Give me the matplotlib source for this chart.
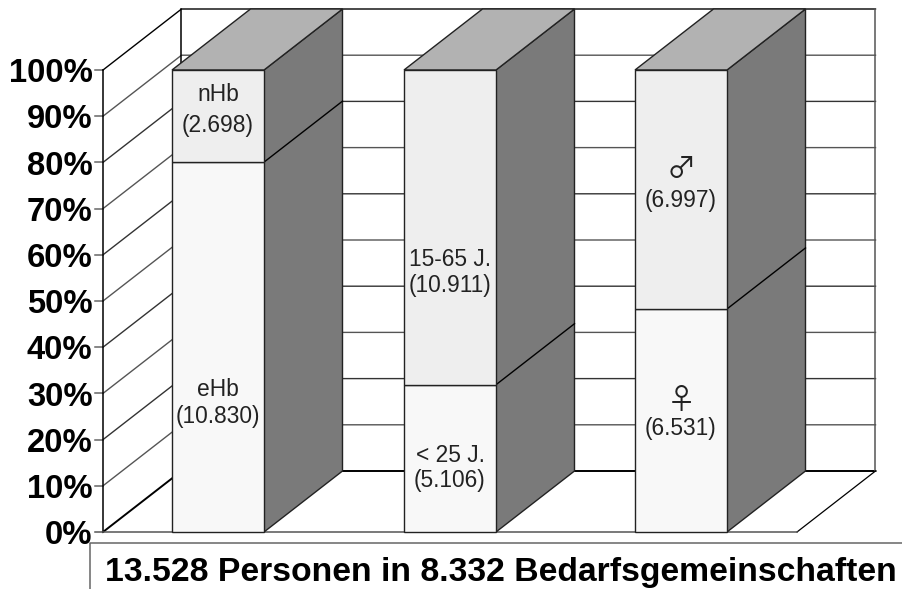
import matplotlib
matplotlib.use("Agg")
import matplotlib.pyplot as plt
from matplotlib.patches import Polygon

plt.rcParams['font.family'] = ['Liberation Sans', 'DejaVu Sans']

# Data
lower_labels = ['eHb', '< 25 J.', '\u2640']
upper_labels = ['nHb', '15-65 J.', '\u2642']
lower_values = [10830, 5106, 6531]
upper_values = [2698, 10911, 6997]
lower_text = ['(10.830)', '(5.106)', '(6.531)']
upper_text = ['(2.698)', '(10.911)', '(6.997)']
tick_values = list(range(0, 101, 10))
title = '13.528 Personen in 8.332 Bedarfsgemeinschaften'

# Layout (x in pixels, y in percent)
W, H = 903, 589
Y0, Y100 = 532.0, 70.0
PP = (Y0 - Y100) / 100
DX, DY = 78.5, 61.0 / PP
XL, XR = 103.0, 797.0
BAR_L = [172.0, 404.0, 635.0]
BAR_W = 92.0
# label heights, as pixel rows from the top: (name, number)
LOWER_ROWS = [(389, 416), (455, 481), (401, 429)]
UPPER_ROWS = [(94, 125), (259, 285), (170, 200)]


def row(y):
    return (Y0 - y) / PP


fig = plt.figure(figsize=(W / 100, H / 100), dpi=100)
ax = fig.add_axes([0, 0, 1, 1])
ax.set_xlim(0, W)
ax.set_ylim(-(H - Y0) / PP, 100 + Y100 / PP)
ax.axis('off')

GRID = '#555555'
for t in tick_values[1:-1]:
    c = '#333333' if t % 20 == 0 else GRID
    ax.plot([XL, XL + DX, XR + DX], [t, t + DY, t + DY], color=c, lw=1.0, zorder=1)
    ax.plot([XL - 8, XL], [t, t], color='#666666', lw=1.1, zorder=1)

# walls and floor
ax.plot([XL - 8, XL], [100, 100], color='#666666', lw=1.1, zorder=1)
ax.plot([XL, XL + DX, XR + DX], [100, 100 + DY, 100 + DY], color='black', lw=1.0, zorder=1)
ax.plot([XL, XL + DX, XR + DX], [0, DY, DY], color='black', lw=1.4, zorder=1)
ax.plot([XL, XL], [0, 100], color='black', lw=1.1, zorder=1)
ax.plot([XL + DX, XL + DX], [DY, 100 + DY], color='black', lw=1.1, zorder=1)
ax.plot([XR + DX, XR + DX], [DY, 100 + DY], color='#555555', lw=1.1, zorder=1)
ax.plot([XR, XR + DX], [0, DY], color='black', lw=0.9, zorder=1)
ax.plot([XL - 8, XR], [0, 0], color='#555555', lw=1.1, zorder=1)

EDGE = '#222222'
for i, (left, lo, up) in enumerate(zip(BAR_L, lower_values, upper_values)):
    total = lo + up
    split = lo / total * 100
    right = left + BAR_W
    # side face
    ax.add_patch(Polygon([(right, 0), (right + DX, DY), (right + DX, 100 + DY), (right, 100)],
                         fc='#7a7a7a', ec=EDGE, lw=1.0, zorder=3))
    ax.plot([right, right + DX], [split, split + DY], color='black', lw=1.0, zorder=4)
    # top face
    ax.add_patch(Polygon([(left, 100), (left + DX, 100 + DY), (right + DX, 100 + DY), (right, 100)],
                         fc='#b2b2b2', ec=EDGE, lw=1.0, zorder=3))
    # front faces
    ax.add_patch(Polygon([(left, 0), (right, 0), (right, split), (left, split)],
                         fc='#f8f8f8', ec=EDGE, lw=1.0, zorder=4))
    ax.add_patch(Polygon([(left, split), (right, split), (right, 100), (left, 100)],
                         fc='#eeeeee', ec=EDGE, lw=1.0, zorder=4))
    cx = left + BAR_W / 2
    for rows, name, txt in ((LOWER_ROWS[i], lower_labels[i], lower_text[i]),
                            (UPPER_ROWS[i], upper_labels[i], upper_text[i])):
        if name in ('\u2640', '\u2642'):
            ax.text(cx, row(rows[0]), name, ha='center', va='center', fontsize=21,
                    family=['Noto Sans CJK JP', 'DejaVu Sans'], color='#222222', zorder=6)
        else:
            ax.text(cx, row(rows[0]), name, ha='center', va='center', fontsize=16.4,
                    color='#222222', zorder=6)
        ax.text(cx, row(rows[1]), txt, ha='center', va='center', fontsize=16.4,
                color='#222222', zorder=6)

for t in tick_values:
    ax.text(92.5, t - 0.8, f'{t}%', ha='right', va='center', fontsize=23.6,
            fontweight='bold', color='black', zorder=7)

# caption box
ax.plot([W, 90, 90], [row(543), row(543), row(589)],
        color='#666666', lw=1.1, zorder=8, clip_on=False)
ax.text(105, row(573), title, ha='left', va='center', fontsize=24.3,
        fontweight='bold', color='black', zorder=8)

fig.savefig('out.png', dpi=100)
